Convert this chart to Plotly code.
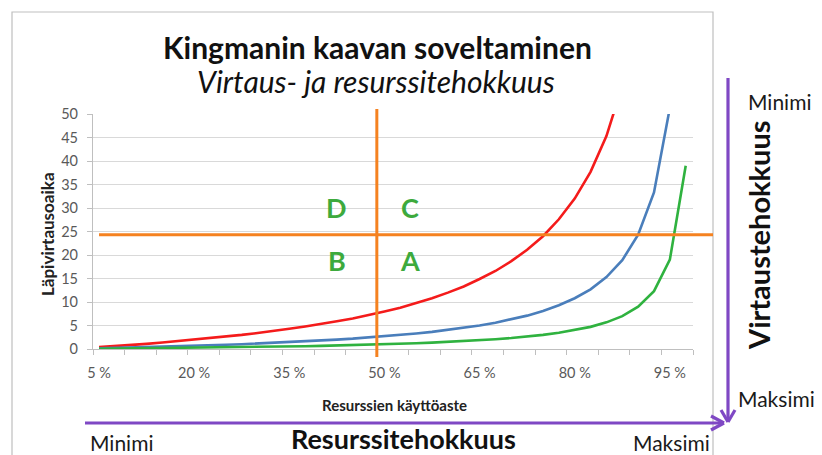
import plotly.graph_objects as go

# ---- data ----
utilization = [5, 7.5, 10, 12.5, 15, 17.5, 20, 22.5, 25, 27.5, 30, 32.5, 35, 37.5, 40, 42.5,
               45, 47.5, 50, 52.5, 55, 57.5, 60, 62.5, 65, 67.5, 70, 72.5, 75, 77.5, 80,
               82.5, 85, 87.5, 90, 92.5, 95, 97.5]
red_series = [0.4, 0.6, 0.9, 1.1, 1.4, 1.7, 2.0, 2.3, 2.7, 3.0, 3.4, 3.8, 4.3, 4.8, 5.3, 5.9,
              6.5, 7.2, 8.0, 8.8, 9.8, 10.8, 12.0, 13.3, 14.9, 16.6, 18.7, 21.1, 24.0, 27.6,
              32.0, 37.7, 45.3, 56.0]
blue_series = [0.14, 0.22, 0.3, 0.39, 0.48, 0.57, 0.68, 0.78, 0.9, 1.02, 1.16, 1.3, 1.45, 1.62,
               1.8, 2.0, 2.2, 2.44, 2.7, 2.98, 3.3, 3.65, 4.05, 4.5, 5.0, 5.6, 6.3, 7.1, 8.1,
               9.3, 10.8, 12.7, 15.3, 18.9, 24.3, 33.3, 51.3]
green_series = [0.05, 0.08, 0.11, 0.14, 0.18, 0.21, 0.25, 0.29, 0.33, 0.38, 0.43, 0.48, 0.54,
                0.6, 0.67, 0.74, 0.82, 0.9, 1.0, 1.1, 1.22, 1.35, 1.5, 1.67, 1.86, 2.08, 2.33,
                2.64, 3.0, 3.44, 4.0, 4.71, 5.67, 7.0, 9.0, 12.3, 19.0, 39.0]
x_tick_vals = [5, 20, 35, 50, 65, 80, 95]
x_tick_text = ["5 %", "20 %", "35 %", "50 %", "65 %", "80 %", "95 %"]
y_tick_vals = [0, 5, 10, 15, 20, 25, 30, 35, 40, 45, 50]
threshold_util = 48.8
threshold_time = 24.3
quadrants = [("D", 42.5, 30.2), ("C", 54.0, 30.2), ("B", 42.5, 18.9), ("A", 54.0, 18.9)]

X_RANGE = [4.05, 98.65]
Y_RANGE = [0, 50]

# page offset (browser body margin)
OFF = 8
W, H = 822 - OFF, 455 - OFF
PLOT_L, PLOT_R, PLOT_T, PLOT_B = 93, 693, 114, 349   # screen pixels
ML, MT = PLOT_L - OFF, PLOT_T - OFF
MR = W - (PLOT_R - OFF)
MB = H - (PLOT_B - OFF)
PW, PH = PLOT_R - PLOT_L, PLOT_B - PLOT_T


def px(x, y):
    """screen pixel position -> paper coordinates (for decorations)"""
    return (x - PLOT_L) / PW, (PLOT_B - y) / PH


FONT = "Lato, 'Open Sans', sans-serif"
PURPLE = "#7F48C4"
ORANGE = "#F58220"
GREEN_TXT = "#3DAA3D"

fig = go.Figure()
fig.add_trace(go.Scatter(x=utilization[:len(red_series)], y=red_series, mode="lines",
                         line=dict(color="#F41B1B", width=2.6), showlegend=False))
fig.add_trace(go.Scatter(x=utilization[:len(blue_series)], y=blue_series, mode="lines",
                         line=dict(color="#4A7EBB", width=2.6), showlegend=False))
fig.add_trace(go.Scatter(x=utilization[:len(green_series)], y=green_series, mode="lines",
                         line=dict(color="#2FB23F", width=2.6), showlegend=False))

shapes = []
# frame
fx0, fy0 = px(12, 12)
fx1, fy1 = px(713, 470)
shapes.append(dict(type="rect", xref="paper", yref="paper", x0=fx0, y0=fy1, x1=fx1, y1=fy0,
                   line=dict(color="#BFBFBF", width=1.2), layer="below"))
# orange threshold lines
hx0 = (utilization[0] - X_RANGE[0]) / (X_RANGE[1] - X_RANGE[0])
hx1, _ = px(713, 0)
shapes.append(dict(type="line", xref="paper", yref="y", x0=hx0, x1=hx1,
                   y0=threshold_time, y1=threshold_time, line=dict(color=ORANGE, width=3)))
_, vy1 = px(0, 109)
_, vy0 = px(0, 357)
shapes.append(dict(type="line", xref="x", yref="paper", x0=threshold_util, x1=threshold_util,
                   y0=vy0, y1=vy1, line=dict(color=ORANGE, width=3)))


def seg(a, b):
    x0, y0 = px(*a)
    x1, y1 = px(*b)
    shapes.append(dict(type="line", xref="paper", yref="paper", x0=x0, y0=y0, x1=x1, y1=y1,
                       line=dict(color=PURPLE, width=3.2)))


# purple arrows
seg((85, 423), (724, 423))
seg((724, 423), (711, 416))
seg((724, 423), (711, 430))
seg((728, 78), (728, 421))
seg((728, 422), (721, 410))
seg((728, 422), (735, 410))

annotations = []


def text(x, y, t, size, bold=False, italic=False, color="#1a1a1a", angle=0, xanchor="center"):
    xp, yp = px(x, y)
    s = t
    if bold:
        s = "<b>" + s + "</b>"
    if italic:
        s = "<i>" + s + "</i>"
    annotations.append(dict(xref="paper", yref="paper", x=xp, y=yp, text=s, showarrow=False,
                            font=dict(family=FONT, size=size, color=color), textangle=angle,
                            xanchor=xanchor, yanchor="middle"))


text(377, 47, "Kingmanin kaavan soveltaminen", 30, bold=True, color="#111111")
text(376, 81, "Virtaus- ja resurssitehokkuus", 30, italic=True, color="#111111")
text(47, 234, "Läpivirtausoaika", 17, bold=True, color="#222222", angle=-90)
text(394, 405, "Resurssien käyttöaste", 15, bold=True, color="#222222")
text(121, 442, "Minimi", 21)
text(403, 438, "Resurssitehokkuus", 27, bold=True, color="#111111")
text(671, 442, "Maksimi", 21)
text(779, 102, "Minimi", 21)
text(758, 235, "Virtaustehokkuus", 29, bold=True, color="#111111", angle=-90)
text(777, 398, "Maksimi", 21)

for lab, qx, qy in quadrants:
    annotations.append(dict(xref="x", yref="y", x=qx, y=qy, text="<b>" + lab + "</b>",
                            showarrow=False,
                            font=dict(family=FONT, size=27, color=GREEN_TXT)))

fig.update_layout(
    width=W, height=H,
    margin=dict(l=ML, r=MR, t=MT, b=MB, pad=0),
    paper_bgcolor="white", plot_bgcolor="white",
    shapes=shapes, annotations=annotations,
    font=dict(family=FONT, color="#595959"),
    xaxis=dict(range=X_RANGE, tickmode="array", tickvals=x_tick_vals, ticktext=x_tick_text,
               ticks="", showgrid=False, zeroline=False,
               showline=True, linecolor="#BFBFBF", linewidth=1.2,
               tickfont=dict(family=FONT, size=14.5, color="#595959"),
               ticklabelstandoff=10,
               minor=dict(tickmode="linear", tick0=X_RANGE[0], dtick=4.979,
                          ticks="outside", ticklen=5, tickcolor="#BFBFBF", tickwidth=1.2,
                          showgrid=False)),
    yaxis=dict(range=Y_RANGE, tickmode="array", tickvals=y_tick_vals,
               ticks="outside", ticklen=5, tickcolor="#BFBFBF", tickwidth=1.2,
               showgrid=True, gridcolor="#D9D9D9", gridwidth=1.2, zeroline=False,
               showline=True, linecolor="#BFBFBF", linewidth=1.2,
               tickfont=dict(family=FONT, size=14.5, color="#595959"),
               ticklabelstandoff=6),
)

fig.write_html("out.html")
